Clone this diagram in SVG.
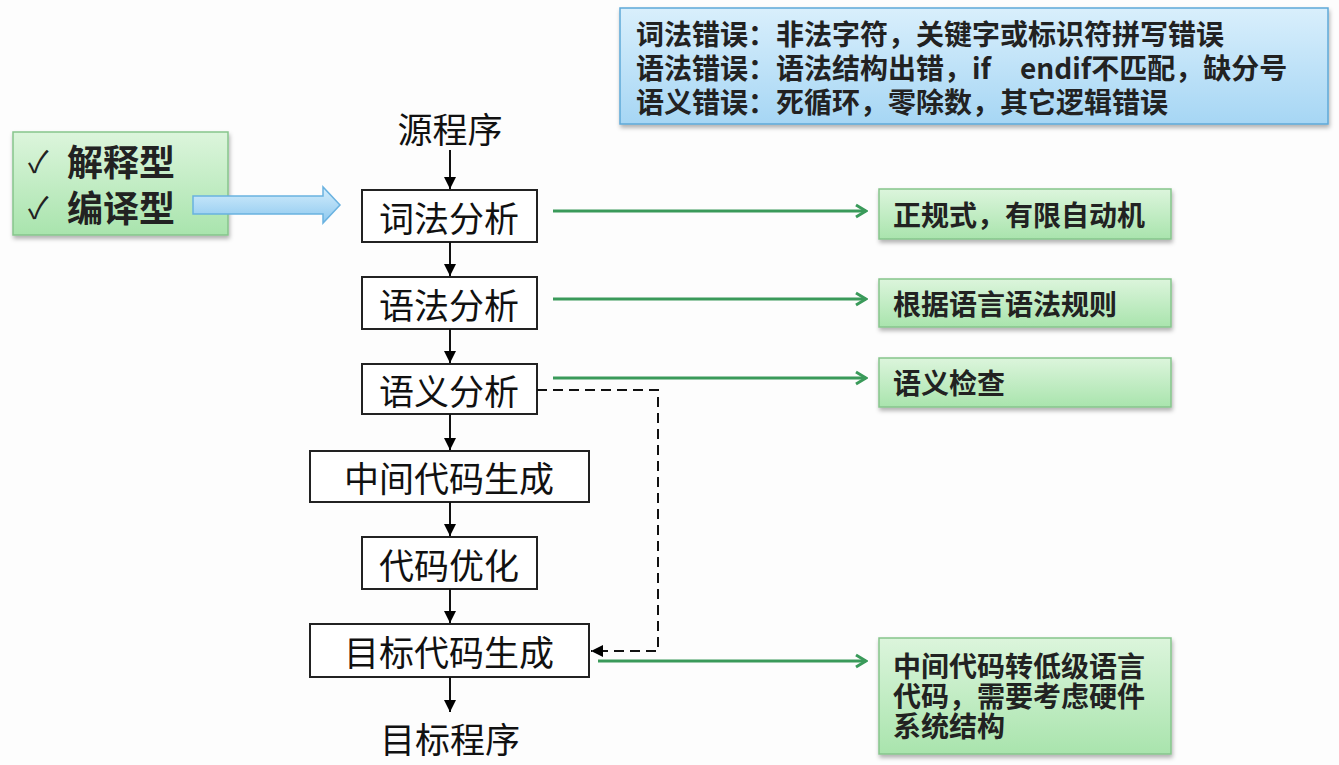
<svg xmlns="http://www.w3.org/2000/svg" width="1339" height="765" viewBox="0 0 1339 765">
<defs>
<linearGradient id="gg" x1="0" y1="0" x2="0" y2="1"><stop offset="0" stop-color="#dcf5dc"/><stop offset="1" stop-color="#a9e4ad"/></linearGradient>
<linearGradient id="bg" x1="0" y1="0" x2="0" y2="1"><stop offset="0" stop-color="#d9effc"/><stop offset="1" stop-color="#a6d6f4"/></linearGradient>
<linearGradient id="ag" x1="0" y1="0" x2="0" y2="1"><stop offset="0" stop-color="#d5eefc"/><stop offset="1" stop-color="#8cc8ef"/></linearGradient>
<filter id="sh" x="-5%" y="-10%" width="110%" height="130%"><feDropShadow dx="1" dy="3" stdDeviation="2" flood-color="#000" flood-opacity="0.3"/></filter>
<marker id="ab" markerWidth="12" markerHeight="12" viewBox="0 0 12 12" refX="12" refY="6" orient="auto" markerUnits="userSpaceOnUse"><path d="M0,0 L12,6 L0,12 z" fill="#000"/></marker>
<marker id="ag2" markerWidth="16" markerHeight="16" viewBox="0 0 16 16" refX="14" refY="8" orient="auto" markerUnits="userSpaceOnUse"><path d="M4,2 L14,8 L4,14" fill="none" stroke="#3a9a5a" stroke-width="3"/></marker>
<style>
.gbox{fill:url(#gg);stroke:#86c58c;stroke-width:1.5;filter:url(#sh)}
.bbox{fill:url(#bg);stroke:#5ea9d8;stroke-width:1.5;filter:url(#sh)}
.node{fill:#fff;stroke:#222;stroke-width:2}
.nt{font-family:"Noto Sans CJK SC","Noto Sans",sans-serif;font-size:35px;fill:#111;text-anchor:middle;dominant-baseline:central}
.bt{font-family:"Noto Sans CJK SC","Noto Sans",sans-serif;font-weight:bold;fill:#222;dominant-baseline:central}
.fl{stroke:#111;stroke-width:2;fill:none;marker-end:url(#ab)}
.gl{stroke:#3a9a5a;stroke-width:3;fill:none;marker-end:url(#ag2)}
</style>
</defs>
<rect width="1339" height="765" fill="#fdfdfd"/>
<g id="types">
<rect class="gbox" x="13" y="132" width="215" height="103"/>
<text class="bt" font-size="36"><tspan x="28" y="160" font-size="30" font-weight="normal">✓</tspan><tspan x="67" y="160">解释型</tspan><tspan x="28" y="206" font-size="30" font-weight="normal">✓</tspan><tspan x="67" y="206">编译型</tspan></text>
</g>
<g id="bigarrow">
<path d="M193,196 L323,196 L323,187 L340,205 L323,223 L323,214 L193,214 z" fill="url(#ag)" stroke="#6ab2e0" stroke-width="1.5"/>
</g>
<g id="errors">
<rect class="bbox" x="620" y="8" width="708" height="116"/>
<text class="bt" font-size="28"><tspan x="636" y="33">词法错误：非法字符，关键字或标识符拼写错误</tspan><tspan x="636" y="67">语法错误：语法结构出错，if</tspan><tspan x="1020" y="67">endif不匹配，缺分号</tspan><tspan x="636" y="101">语义错误：死循环，零除数，其它逻辑错误</tspan></text>
</g>
<g id="src"><text class="nt" x="450" y="127">源程序</text></g>
<g id="lex"><rect class="node" x="362" y="190" width="175" height="52"/><text class="nt" x="449" y="216">词法分析</text></g>
<g id="syn"><rect class="node" x="362" y="277" width="175" height="52"/><text class="nt" x="449" y="303">语法分析</text></g>
<g id="sem"><rect class="node" x="362" y="364" width="175" height="50"/><text class="nt" x="449" y="389">语义分析</text></g>
<g id="ir"><rect class="node" x="310" y="451" width="279" height="51"/><text class="nt" x="449" y="476">中间代码生成</text></g>
<g id="opt"><rect class="node" x="362" y="537" width="175" height="52"/><text class="nt" x="449" y="563">代码优化</text></g>
<g id="gen"><rect class="node" x="310" y="624" width="279" height="53"/><text class="nt" x="449" y="650">目标代码生成</text></g>
<g id="tgt"><text class="nt" x="450" y="737">目标程序</text></g>
<g id="n1"><rect class="gbox" x="879" y="189" width="292" height="50"/><text class="bt" x="893" y="214" font-size="28">正规式，有限自动机</text></g>
<g id="n2"><rect class="gbox" x="879" y="279" width="292" height="48"/><text class="bt" x="893" y="303" font-size="28">根据语言语法规则</text></g>
<g id="n3"><rect class="gbox" x="879" y="358" width="292" height="49"/><text class="bt" x="893" y="382" font-size="28">语义检查</text></g>
<g id="n4"><rect class="gbox" x="879" y="638" width="292" height="116"/>
<text class="bt" font-size="28"><tspan x="893" y="665">中间代码转低级语言</tspan><tspan x="893" y="695">代码，需要考虑硬件</tspan><tspan x="893" y="725">系统结构</tspan></text></g>
<g id="connectors">
<line class="fl" x1="450" y1="150" x2="450" y2="189"/>
<line class="fl" x1="450" y1="242" x2="450" y2="276"/>
<line class="fl" x1="450" y1="329" x2="450" y2="363"/>
<line class="fl" x1="450" y1="414" x2="450" y2="450"/>
<line class="fl" x1="450" y1="502" x2="450" y2="536"/>
<line class="fl" x1="450" y1="589" x2="450" y2="623"/>
<line class="fl" x1="450" y1="677" x2="450" y2="712"/>
<path class="fl" d="M537,390 L658,390 L658,651 L591,651" stroke-dasharray="10,6"/>
<line class="gl" x1="553" y1="211" x2="866" y2="211"/>
<line class="gl" x1="553" y1="299" x2="866" y2="299"/>
<line class="gl" x1="553" y1="378" x2="866" y2="378"/>
<line class="gl" x1="598" y1="661" x2="866" y2="661"/>
</g>
</svg>
